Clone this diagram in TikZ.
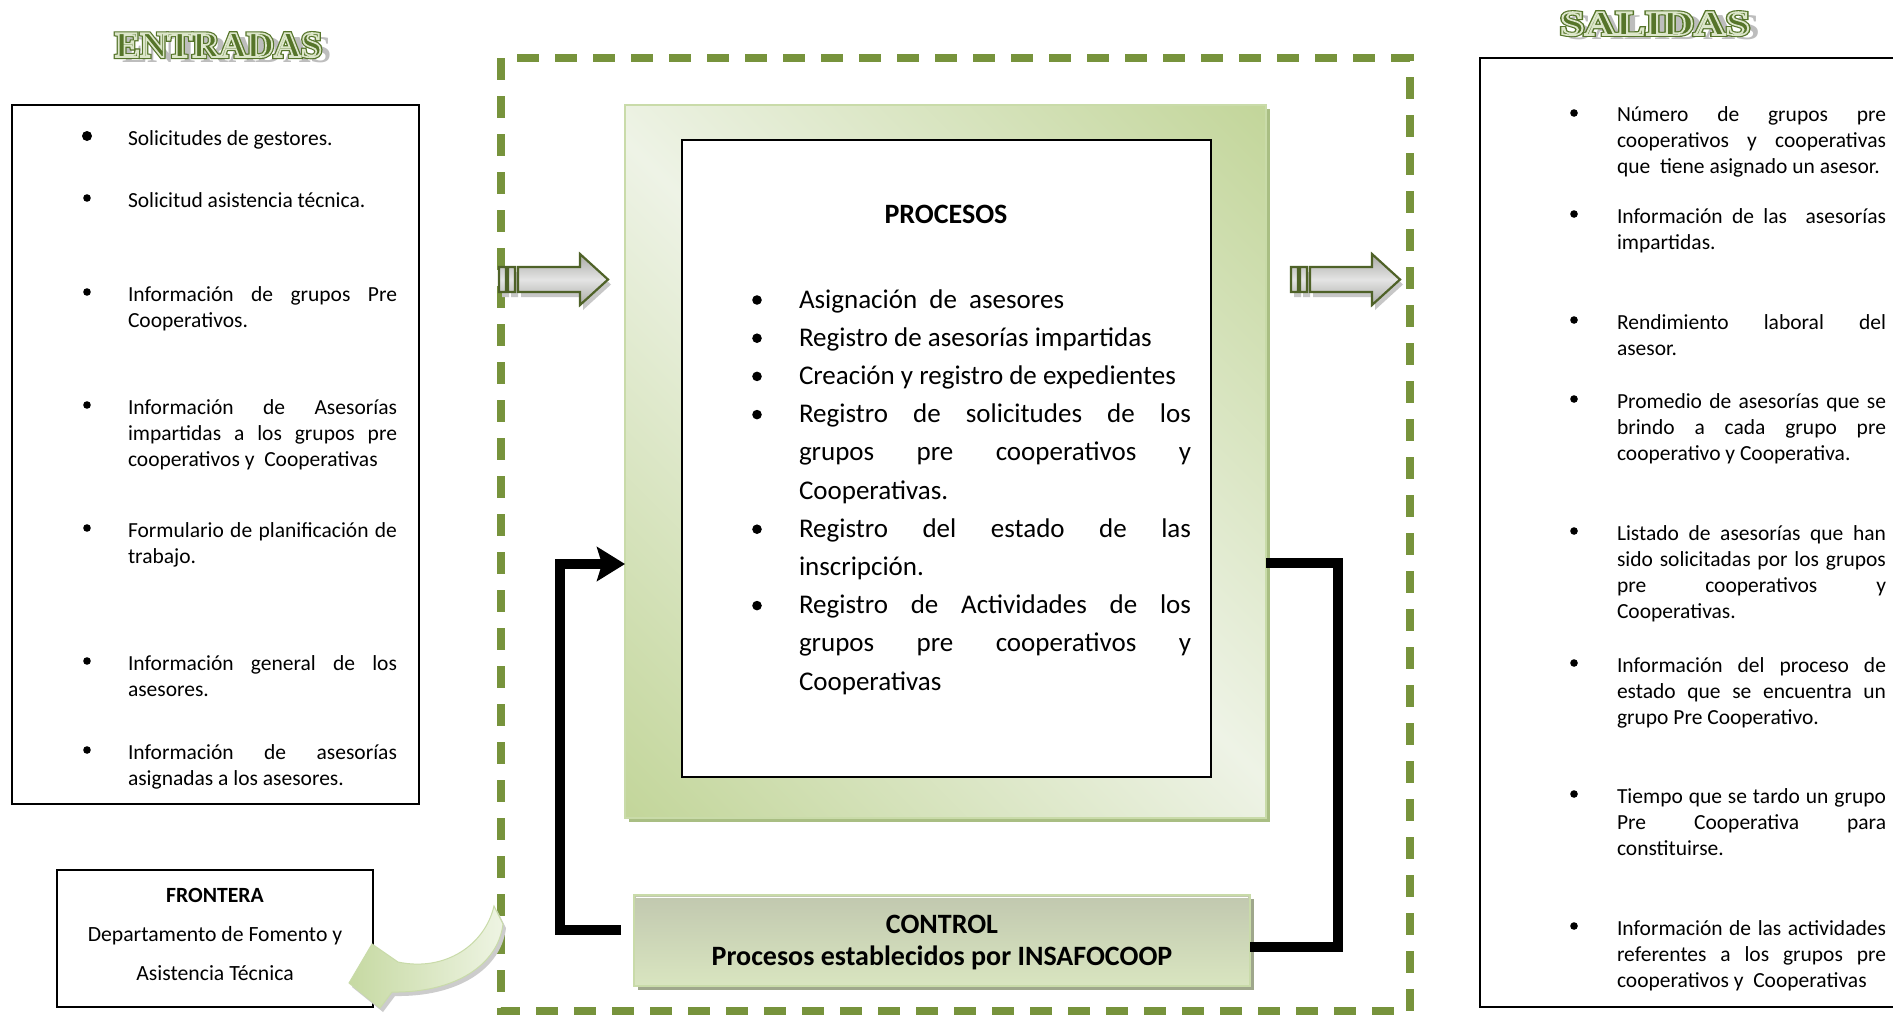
\documentclass[tikz,border=0pt]{standalone}
\usepackage{fontspec}
\usepackage{graphicx}
\setmainfont{Carlito}
\newfontfamily\titlefont{Liberation Serif}
\usetikzlibrary{arrows.meta}

\definecolor{dashgreen}{HTML}{77933C}
\definecolor{darkolive}{HTML}{4F6228}
\definecolor{titlegreen}{HTML}{56752A}
\definecolor{titlepale}{HTML}{DCE6CA}
\definecolor{titleshade}{HTML}{BDBDBD}
\definecolor{paleleaf}{HTML}{EEF3E6}
\definecolor{leaf}{HTML}{C3D69B}
\definecolor{leafedge}{HTML}{C9DBA9}
\definecolor{leafshadow}{HTML}{A9BE83}
\definecolor{ctrltop}{HTML}{C1C8AF}
\definecolor{ctrlbot}{HTML}{D9E5C0}
\definecolor{ctrlshadow}{HTML}{9FA78C}
\definecolor{arrowlight}{HTML}{E4E4E4}
\definecolor{arrowdark}{HTML}{A9AAA5}
\definecolor{curlight}{HTML}{EEF4E3}
\definecolor{curdark}{HTML}{C6D9A2}

% reflected diagonal gradient of the process frame
\pgfdeclarehorizontalshading{leafdiag}{100bp}{%
  color(0bp)=(leaf); color(15bp)=(leaf); color(50bp)=(paleleaf);
  color(85bp)=(leaf); color(100bp)=(leaf)}

% justified lines of the lists (font's own stretchable spaces)
\newcommand\jE[1]{{\spaceskip=0pt\xspaceskip=0pt\makebox[269bp][s]{#1}}}
\newcommand\jP[1]{{\spaceskip=0pt\xspaceskip=0pt\makebox[392bp][s]{#1}}}

% engraved title letters: slightly thickened dark glyphs with a pale line along their outline
\newcommand\engraved[1]{%
  \makebox[0pt][l]{\special{pdf:literal 2 Tr 1.1 w}#1\special{pdf:literal 0 Tr}}%
  {\color{titlepale}\special{pdf:literal 1 Tr 0.45 w}#1\special{pdf:literal 0 Tr}}}

% striped block arrow, #1 = left end
\newcommand\stripedarrow[1]{%
  \begin{scope}[shift={(#1,0)}]
    \begin{scope}[shift={(3,5)}]
      \fill[black!22] (0,267) rectangle (7,292) (9,267) rectangle (16,292)
        (19,267) -- (81,267) -- (81,254) -- (109,279.5) -- (81,305) -- (81,292) -- (19,292) -- cycle;
    \end{scope}
    \shade[top color=arrowdark, bottom color=arrowdark, middle color=arrowlight,
           draw=darkolive, line width=2.2bp, line join=miter]
      (0,267) rectangle (7,292) (9,267) rectangle (16,292)
      (19,267) -- (81,267) -- (81,254) -- (109,279.5) -- (81,305) -- (81,292) -- (19,292) -- cycle;
  \end{scope}}

\begin{document}
\begin{tikzpicture}[x=1bp,y=-1bp,
  every node/.style={inner sep=0pt, outer sep=0pt},
  listtxt/.style={anchor=north west, align=flush left, text width=269bp,
                  font=\fontsize{21.5bp}{25.8bp}\selectfont},
  proctxt/.style={anchor=north west, align=flush left, text width=392bp,
                  font=\fontsize{27bp}{38.2bp}\selectfont},
  frame/.style={draw=black, line width=2bp},
  feedback/.style={line width=10.5bp, line join=miter, draw=black},
  titletxt/.style={anchor=base west},
]
\useasboundingbox (0,0) rectangle (1893,1015);
\clip (0,0) rectangle (1893,1015);
\fill[white] (0,0) rectangle (1893,1015);

% system boundary
\draw[dashgreen, line width=7.5bp, dash pattern=on 22bp off 16bp] (501,58) rectangle (1410,1011);

% titles with their grey shadows
\node[titletxt, text=titleshade] (entshadow) at (122,62) {\resizebox{210bp}{25bp}{\titlefont\bfseries ENTRADAS}};
\node[titletxt, text=titlegreen] (enttitle) at (115,57) {\resizebox{207bp}{24bp}{\titlefont\bfseries\engraved{ENTRADAS}}};
\node[titletxt, text=titleshade] (salshadow) at (1567,39) {\resizebox{193bp}{24bp}{\titlefont\bfseries SALIDAS}};
\node[titletxt, text=titlegreen] (saltitle) at (1560,35) {\resizebox{190bp}{23bp}{\titlefont\bfseries\engraved{SALIDAS}}};

% inputs
\draw[frame] (12,105) rectangle (419,804);
\node[listtxt] (e1) at (128,127.9) {\strut Solicitudes de gestores.};
\node[listtxt] (e2) at (128,189.9) {\strut Solicitud asistencia técnica.};
\node[listtxt] (e3) at (128,283.9) {\strut\jE{Información de grupos Pre}\\Cooperativos.};
\node[listtxt] (e4) at (128,396.9) {\strut\jE{Información de Asesorías}\\\jE{impartidas a los grupos pre}\\cooperativos y~~Cooperativas};
\node[listtxt] (e5) at (128,519.9) {\strut\jE{Formulario de planificación de}\\trabajo.};
\node[listtxt] (e6) at (128,652.9) {\strut\jE{Información general de los}\\asesores.};
\node[listtxt] (e7) at (128,741.9) {\strut\jE{Información de asesorías}\\asignadas a los asesores.};
\fill (87,136) circle[radius=5bp];
\foreach \y in {198,292,405,528,661,750} \fill (87,\y) circle[radius=3.8bp];

% outputs
\draw[line width=2.4bp] (1480,58) rectangle (1905,1007);
\node[listtxt] (s1) at (1617,103.9) {\strut\jE{Número de grupos pre}\\\jE{cooperativos y cooperativas}\\que~~tiene asignado un asesor.};
\node[listtxt] (s2) at (1617,205.9) {\strut\jE{Información de las~~asesorías}\\impartidas.};
\node[listtxt] (s3) at (1617,311.9) {\strut\jE{Rendimiento laboral del}\\asesor.};
\node[listtxt] (s4) at (1617,390.9) {\strut\jE{Promedio de asesorías que se}\\\jE{brindo a cada grupo pre}\\cooperativo y Cooperativa.};
\node[listtxt] (s5) at (1617,522.9) {\strut\jE{Listado de asesorías que han}\\\jE{sido solicitadas por los grupos}\\\jE{pre cooperativos y}\\Cooperativas.};
\node[listtxt] (s6) at (1617,654.9) {\strut\jE{Información del proceso de}\\\jE{estado que se encuentra un}\\grupo Pre Cooperativo.};
\node[listtxt] (s7) at (1617,785.9) {\strut\jE{Tiempo que se tardo un grupo}\\\jE{Pre Cooperativa para}\\constituirse.};
\node[listtxt] (s8) at (1617,917.9) {\strut\jE{Información de las actividades}\\\jE{referentes a los grupos pre}\\cooperativos y~~Cooperativas};
\foreach \y in {113,214,320,399,531,663,794,926} \fill (1574,\y) circle[radius=3.8bp];

% process frame
\fill[leafshadow] (629,109) rectangle (1270,822);
\node[draw=leafedge, line width=1.5bp, shading=leafdiag, shading angle=45,
      minimum width=641bp, minimum height=713bp, anchor=north west] (proc) at (625,105) {};
\node[draw=black, line width=1.6bp, fill=white,
      minimum width=529bp, minimum height=637bp, anchor=north west] (inner) at (682,140) {};
\node[anchor=base, font=\fontsize{28bp}{32bp}\selectfont\bfseries] (proctitle) at (946,223) {PROCESOS};
\node[proctxt] (plist) at (799,281.3) {\strut Asignación~~de~~asesores\\
  Registro de asesorías impartidas\\
  Creación y registro de expedientes\\
  \jP{Registro de solicitudes de los}\\
  \jP{grupos pre cooperativos y}\\
  Cooperativas.\\
  \jP{Registro del estado de las}\\
  inscripción.\\
  \jP{Registro de Actividades de los}\\
  \jP{grupos pre cooperativos y}\\
  Cooperativas};
\foreach \y in {300,338.2,376.4,414.6,529.2,605.6} \fill (757,\y) circle[radius=4.8bp];

% input and output arrows
\stripedarrow{499}
\stripedarrow{1291}

% control
\fill[ctrlshadow] (638,899) rectangle (1254,990);
\node[draw=leafedge, line width=1.5bp, top color=ctrltop, bottom color=ctrlbot,
      minimum width=616bp, minimum height=91bp, anchor=north west] (ctrl) at (634,895) {};
\draw[white, line width=1.2bp] (636,897.5) -- (1248,897.5);
\node[anchor=north, align=center, font=\fontsize{28bp}{32bp}\selectfont\bfseries] (ctrltxt) at (942,910.6)
  {\strut CONTROL\\Procesos establecidos por INSAFOCOOP};

% feedback loop
\coordinate (ctrlL) at (621,930);
\coordinate (procL) at (625,564);
\coordinate (procR) at (1266,563);
\coordinate (ctrlR) at (1250,947);
\draw[feedback, -{Stealth[length=28bp, width=34bp, inset=5bp]}] (ctrlL) -- (560,930) -- (560,564) -- (procL);
\draw[feedback] (procR) -- (1338,563) -- (1338,947) -- (ctrlR);

% boundary box
\node[frame, minimum width=316bp, minimum height=137bp, anchor=north west] (front) at (57,870) {};
\node[anchor=north, align=center, font=\fontsize{21.7bp}{39bp}\selectfont] (fronttxt) at (215,874.7)
  {\strut\textbf{FRONTERA}\\Departamento de Fomento y\\Asistencia Técnica};

% curved arrow toward the boundary box
\fill[black!20, shift={(3,4)}]
  (494,906) -- (503,924) .. controls (498,965) and (455,993) .. (392,992) -- (380,1008) -- (349,983)
  -- (372,944) -- (398,962) .. controls (445,972) and (485,945) .. (494,906) -- cycle;
\shade[left color=curdark, right color=curlight, draw=leafedge, line width=1bp, line join=miter]
  (494,906) -- (503,924) .. controls (498,965) and (455,993) .. (392,992) -- (380,1008) -- (349,983)
  -- (372,944) -- (398,962) .. controls (445,972) and (485,945) .. (494,906) -- cycle;
\end{tikzpicture}
\end{document}
